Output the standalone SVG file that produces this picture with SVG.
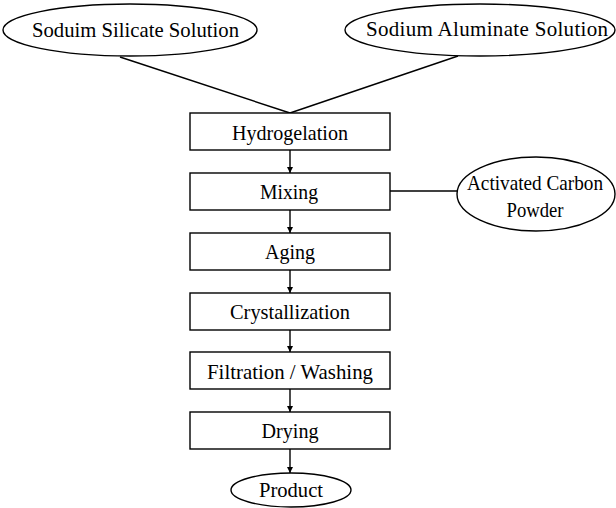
<svg xmlns="http://www.w3.org/2000/svg" width="616" height="508" viewBox="0 0 616 508">
<style>
.n{fill:#fff;stroke:#000;stroke-width:1.4}
.t{font-family:"Liberation Serif","Times New Roman",serif;font-size:21px;fill:#000;text-anchor:middle}
.c{stroke:#000;stroke-width:1.4;fill:none}
</style>
<defs>
<marker id="ah" viewBox="0 0 10 10" refX="10" refY="5" markerWidth="7" markerHeight="6" markerUnits="userSpaceOnUse" orient="auto">
<path d="M0,0 L10,5 L0,10 Z" fill="#000"/>
</marker>
</defs>
<rect width="616" height="508" fill="#fff"/>
<g id="connectors">
<line class="c" x1="120" y1="57" x2="290" y2="113"/>
<line class="c" x1="458" y1="56" x2="290" y2="113"/>
<line class="c" x1="390" y1="191" x2="457" y2="191"/>
<line class="c" x1="290" y1="150" x2="290" y2="173" marker-end="url(#ah)"/>
<line class="c" x1="290" y1="210" x2="290" y2="233" marker-end="url(#ah)"/>
<line class="c" x1="290" y1="270" x2="290" y2="293" marker-end="url(#ah)"/>
<line class="c" x1="290" y1="330" x2="290" y2="352" marker-end="url(#ah)"/>
<line class="c" x1="290" y1="389" x2="290" y2="412" marker-end="url(#ah)"/>
<line class="c" x1="290" y1="449" x2="290" y2="473" marker-end="url(#ah)"/>
</g>
<g id="silicate">
<ellipse class="n" cx="130" cy="30" rx="127" ry="26"/>
<text class="t" x="135.5" y="37" textLength="207" lengthAdjust="spacingAndGlyphs">Soduim Silicate Solution</text>
</g>
<g id="aluminate">
<ellipse class="n" cx="480" cy="30" rx="135" ry="26"/>
<text class="t" x="487" y="36" textLength="242" lengthAdjust="spacing">Sodium Aluminate Solution</text>
</g>
<g id="hydrogelation">
<rect class="n" x="190" y="113" width="200" height="37"/>
<text class="t" x="290" y="140" textLength="116" lengthAdjust="spacingAndGlyphs">Hydrogelation</text>
</g>
<g id="mixing">
<rect class="n" x="190" y="173" width="200" height="37"/>
<text class="t" x="289" y="199" textLength="58" lengthAdjust="spacingAndGlyphs">Mixing</text>
</g>
<g id="carbon">
<ellipse class="n" cx="536" cy="194" rx="79" ry="37"/>
<text class="t" x="535" y="190" style="font-size:21px" textLength="136" lengthAdjust="spacingAndGlyphs">Activated Carbon</text>
<text class="t" x="535" y="217" style="font-size:22px" textLength="57" lengthAdjust="spacingAndGlyphs">Powder</text>
</g>
<g id="aging">
<rect class="n" x="190" y="233" width="200" height="37"/>
<text class="t" x="290" y="259" textLength="50" lengthAdjust="spacingAndGlyphs">Aging</text>
</g>
<g id="crystallization">
<rect class="n" x="190" y="293" width="200" height="37"/>
<text class="t" x="290" y="319" textLength="120" lengthAdjust="spacingAndGlyphs">Crystallization</text>
</g>
<g id="filtration">
<rect class="n" x="190" y="352" width="200" height="37"/>
<text class="t" x="290" y="379" textLength="166" lengthAdjust="spacingAndGlyphs">Filtration / Washing</text>
</g>
<g id="drying">
<rect class="n" x="190" y="412" width="200" height="37"/>
<text class="t" x="290" y="438" textLength="57" lengthAdjust="spacingAndGlyphs">Drying</text>
</g>
<g id="product">
<ellipse class="n" cx="291" cy="490" rx="60" ry="17"/>
<text class="t" x="291" y="497" textLength="64" lengthAdjust="spacingAndGlyphs">Product</text>
</g>
</svg>
